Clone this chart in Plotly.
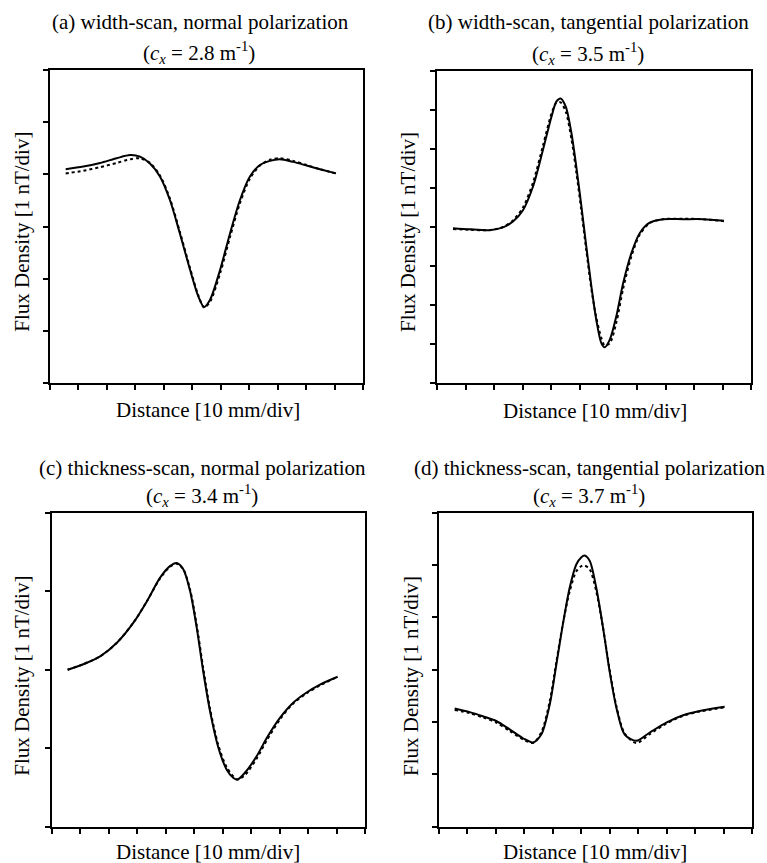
import plotly.graph_objects as go

# ---------------- data (axis units: x in divisions, y in divisions) ----------------
a_x = [0.55, 1.17, 1.76, 2.34, 2.81, 3.16, 3.51, 3.86, 4.21, 4.56, 4.92, 5.21, 5.41, 5.62,
       5.97, 6.32, 6.67, 7.02, 7.37, 7.72, 8.07, 8.54, 9.01, 9.48, 10.04]
a_solid = [4.10, 4.15, 4.22, 4.31, 4.37, 4.34, 4.21, 3.96, 3.51, 2.87, 2.17, 1.66, 1.46, 1.60,
           2.17, 2.87, 3.51, 3.96, 4.18, 4.26, 4.29, 4.24, 4.17, 4.10, 4.02]
a_dot = [4.02, 4.07, 4.14, 4.22, 4.29, 4.31, 4.22, 3.98, 3.54, 2.90, 2.20, 1.68, 1.45, 1.56,
         2.10, 2.80, 3.45, 3.92, 4.17, 4.28, 4.31, 4.26, 4.18, 4.10, 4.02]

b_x = [0.55, 1.13, 1.83, 2.30, 2.65, 3.00, 3.35, 3.70, 4.00, 4.17, 4.32, 4.50, 4.70, 4.87,
       5.05, 5.22, 5.40, 5.57, 5.75, 5.86, 6.04, 6.27, 6.51, 6.80, 7.09, 7.44, 7.91, 8.61,
       9.31, 10.04]
b_solid = [3.97, 3.94, 3.92, 3.99, 4.14, 4.43, 5.03, 5.97, 6.82, 7.21, 7.29, 7.08, 6.40, 5.54,
           4.52, 3.50, 2.47, 1.62, 1.02, 0.92, 1.11, 1.71, 2.56, 3.33, 3.84, 4.11, 4.20, 4.20,
           4.20, 4.16]
b_dot = [3.95, 3.93, 3.92, 4.00, 4.17, 4.50, 5.13, 6.08, 6.90, 7.18, 7.19, 6.95, 6.25, 5.40,
         4.40, 3.40, 2.40, 1.68, 1.15, 0.97, 1.02, 1.55, 2.42, 3.25, 3.80, 4.10, 4.20, 4.21,
         4.20, 4.15]

c_x = [0.56, 1.11, 1.70, 2.28, 2.87, 3.34, 3.80, 4.15, 4.39, 4.62, 4.86, 5.09, 5.32, 5.56,
       5.85, 6.14, 6.38, 6.52, 6.79, 7.20, 7.55, 8.02, 8.48, 8.95, 9.42, 10.04]
c_solid = [2.00, 2.07, 2.17, 2.34, 2.60, 2.87, 3.17, 3.32, 3.36, 3.28, 3.00, 2.54, 1.98, 1.47,
           1.01, 0.73, 0.62, 0.60, 0.69, 0.90, 1.13, 1.39, 1.58, 1.71, 1.81, 1.91]
c_dot = [2.00, 2.07, 2.17, 2.34, 2.60, 2.87, 3.16, 3.31, 3.35, 3.28, 3.02, 2.57, 2.02, 1.50,
         1.04, 0.76, 0.64, 0.60, 0.66, 0.87, 1.10, 1.37, 1.57, 1.70, 1.80, 1.91]

d_x = [0.55, 1.08, 1.54, 2.01, 2.48, 2.95, 3.30, 3.59, 3.89, 4.12, 4.35, 4.59, 4.82, 5.00,
       5.11, 5.29, 5.52, 5.76, 5.99, 6.23, 6.52, 6.93, 7.40, 7.98, 8.57, 9.15, 10.03]
d_solid = [2.26, 2.19, 2.11, 2.02, 1.86, 1.69, 1.61, 1.76, 2.34, 3.10, 3.87, 4.57, 5.01, 5.15,
           5.18, 5.08, 4.57, 3.80, 2.97, 2.27, 1.76, 1.64, 1.80, 1.99, 2.13, 2.21, 2.29]
d_dot = [2.23, 2.17, 2.09, 1.99, 1.83, 1.67, 1.60, 1.80, 2.40, 3.15, 3.88, 4.50, 4.88, 4.98,
         4.99, 4.92, 4.50, 3.80, 3.00, 2.30, 1.78, 1.60, 1.77, 1.97, 2.12, 2.20, 2.28]

titles1 = ["(a) width-scan, normal polarization",
           "(b) width-scan, tangential polarization",
           "(c) thickness-scan, normal polarization",
           "(d) thickness-scan, tangential polarization"]
cx_values = ["2.8", "3.5", "3.4", "3.7"]
y_divs = [6, 8, 4, 6]
x_divs = 11
x_label = "Distance [10 mm/div]"
y_label = "Flux Density [1 nT/div]"

# ---------------- layout geometry (pixels) ----------------
W, H = 767, 863
boxes = [  # left, right, top, bottom
    (50.0, 363.3, 70.0, 383.3),
    (437.3, 751.3, 70.7, 383.3),
    (51.7, 365.0, 512.7, 826.7),
    (439.0, 752.3, 512.7, 826.7),
]
title1_pos = [(200, 21.7), (588, 21.7), (202, 468), (590, 468)]
title2_pos = [(199, 52), (588, 53), (202, 495), (589, 495)]
xlab_pos = [(208, 410), (595, 411), (208, 852), (595, 852)]
ylab_pos = [(21.7, 232), (408, 232), (21.7, 676), (411, 676)]

FONT = "Times New Roman, Liberation Serif, DejaVu Serif, serif"
fig = go.Figure()

series = [(a_x, a_solid, a_dot), (b_x, b_solid, b_dot), (c_x, c_solid, c_dot), (d_x, d_solid, d_dot)]
annotations = []
for i, (xs, ys_s, ys_d) in enumerate(series):
    n = "" if i == 0 else str(i + 1)
    xa, ya = "x" + n, "y" + n
    fig.add_trace(go.Scatter(x=xs, y=ys_d, mode="lines",
                             line=dict(color="black", width=2, dash="dot", shape="spline", smoothing=0.8),
                             xaxis=xa, yaxis=ya, showlegend=False, hoverinfo="skip"))
    fig.add_trace(go.Scatter(x=xs, y=ys_s, mode="lines",
                             line=dict(color="black", width=2, shape="spline", smoothing=0.8),
                             xaxis=xa, yaxis=ya, showlegend=False, hoverinfo="skip"))
    l, r, t, b = boxes[i]
    axis_common = dict(showline=True, mirror=True, linecolor="black", linewidth=2,
                       ticks="outside", ticklen=5, tickwidth=2, tickcolor="black",
                       showticklabels=False, showgrid=False, zeroline=False, fixedrange=True)
    fig.update_layout(**{
        "xaxis" + n: dict(domain=[l / W, r / W], range=[0, x_divs], tick0=0, dtick=1,
                          anchor=ya, **axis_common),
        "yaxis" + n: dict(domain=[1 - b / H, 1 - t / H], range=[0, y_divs[i]], tick0=0, dtick=1,
                          anchor=xa, **axis_common),
    })
    fx, fy = title1_pos[i]
    annotations.append(dict(text=titles1[i], x=fx / W, y=1 - fy / H, xref="paper", yref="paper",
                            xanchor="center", yanchor="middle", showarrow=False,
                            font=dict(family=FONT, size=21, color="black")))
    fx, fy = title2_pos[i]
    annotations.append(dict(text="(<i>c<sub>x</sub></i> = " + cx_values[i] + " m<sup>-1</sup>)",
                            x=fx / W, y=1 - fy / H, xref="paper", yref="paper",
                            xanchor="center", yanchor="middle", showarrow=False,
                            font=dict(family=FONT, size=21, color="black")))
    fx, fy = xlab_pos[i]
    annotations.append(dict(text=x_label, x=fx / W, y=1 - fy / H, xref="paper", yref="paper",
                            xanchor="center", yanchor="middle", showarrow=False,
                            font=dict(family=FONT, size=21, color="black")))
    fx, fy = ylab_pos[i]
    annotations.append(dict(text=y_label, x=fx / W, y=1 - fy / H, xref="paper", yref="paper",
                            xanchor="center", yanchor="middle", showarrow=False, textangle=-90,
                            font=dict(family=FONT, size=21, color="black")))

fig.update_layout(width=W, height=H, margin=dict(l=0, r=0, t=0, b=0),
                  paper_bgcolor="white", plot_bgcolor="white", annotations=annotations,
                  font=dict(family=FONT, size=21, color="black"))

fig.write_html("out.html")
